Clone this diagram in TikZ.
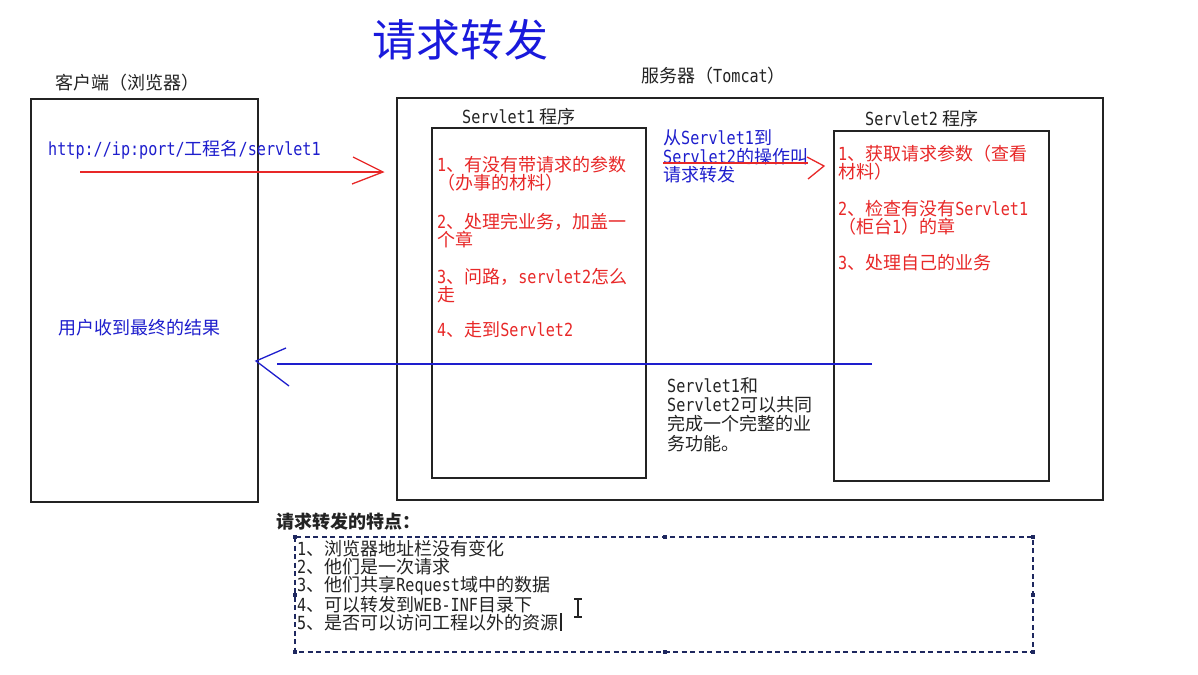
\documentclass[tikz,border=0pt]{standalone}
\usepackage{fontspec}
\setmainfont{Noto Sans CJK SC}
\newfontfamily\monof[FakeStretch=0.84]{DejaVu Sans Mono}
\newcommand\mtx[1]{{\monof #1}}
\usetikzlibrary{calc}
\definecolor{myred}{RGB}{232,40,40}
\definecolor{myblue}{RGB}{30,30,205}
\definecolor{titleblue}{RGB}{25,25,220}
\definecolor{ink}{RGB}{35,35,35}
\definecolor{navy}{RGB}{30,40,95}
\begin{document}
\begin{tikzpicture}[x=1pt,y=-1pt,
  box/.style={draw=ink,line width=1.4pt},
  txt/.style={anchor=west,inner sep=0pt,font=\fontsize{18}{18}\selectfont,align=left},
  redtxt/.style={txt,text=myred},
  bluetxt/.style={txt,text=myblue},
  blacktxt/.style={txt,text=ink},
  redline/.style={draw=myred,line width=1.3pt},
  blueline/.style={draw=myblue,line width=1.3pt},
  handle/.style={fill=navy,draw=none,minimum size=3.5pt,inner sep=0pt}
]
\useasboundingbox (0,0) rectangle (1198,674);
\fill[white] (0,0) rectangle (1198,674);

% title
\node[inner sep=0pt,text=titleblue,font=\fontsize{44}{44}\selectfont] (title) at (460,40) {请求转发};

% labels
\node[blacktxt,font=\fontsize{18}{18}\selectfont] (clientlbl) at (55,83) {客户端（浏览器）};
\node[blacktxt,font=\fontsize{18}{18}\selectfont] (serverlbl) at (641,76) {服务器（\mtx{Tomcat}）};
\node[blacktxt] (s1lbl) at (462,117) {\mtx{Servlet1} 程序};
\node[blacktxt] (s2lbl) at (865,119) {\mtx{Servlet2} 程序};

% boxes
\draw[box] (31,99) rectangle (258,502);
\draw[box] (397,98) rectangle (1103,500);
\draw[box] (432,128) rectangle (646,478);
\draw[box] (834,131) rectangle (1049,481);

% client texts
\node[bluetxt] (url) at (48,150) {\mtx{http://ip:port/}工程名\mtx{/servlet1}};
\node[bluetxt] (result) at (58,328) {用户收到最终的结果};

% servlet1 items
\node[redtxt] (a1) at (437,174) {\mtx{1}、有没有带请求的参数\\（办事的材料）};
\node[redtxt] (a2) at (437,230.5) {\mtx{2}、处理完业务，加盖一\\个章};
\node[redtxt] (a3) at (437,286) {\mtx{3}、问路，\mtx{servlet2}怎么\\走};
\node[redtxt] (a4) at (437,330) {\mtx{4}、走到\mtx{Servlet2}};

% servlet2 items
\node[redtxt] (b1) at (838,162.5) {\mtx{1}、获取请求参数（查看\\材料）};
\node[redtxt] (b2) at (838,217.5) {\mtx{2}、检查有没有\mtx{Servlet1}\\（柜台\mtx{1}）的章};
\node[redtxt] (b3) at (838,263) {\mtx{3}、处理自己的业务};

% middle texts
\node[bluetxt,font=\fontsize{18}{18.5}\selectfont] (mid) at (663,156.5) {从\mtx{Servlet1}到\\\mtx{Servlet2}的操作叫\\请求转发};
\node[blacktxt,font=\fontsize{18}{19.3}\selectfont] (coop) at (667,414.5) {\mtx{Servlet1}和\\\mtx{Servlet2}可以共同\\完成一个完整的业\\务功能。};

% arrows
\coordinate (rqS) at (80,172);
\coordinate (rqT) at (383,172);
\draw[redline] (rqS) -- (rqT);
\draw[redline] ($(rqT)+(-30,-15)$) -- (rqT) -- ($(rqT)+(-31,12)$);

\coordinate (fwS) at (663,163);
\coordinate (fwE) at (808,163);
\coordinate (fwT) at (824,166);
\draw[redline] (fwS) -- (fwE);
\draw[redline] ($(fwT)+(-17,-9)$) -- (fwT) -- ($(fwT)+(-16,13)$);

\coordinate (rsS) at (872,364);
\coordinate (rsE) at (277,364);
\coordinate (rsT) at (256,361);
\draw[blueline] (rsS) -- (rsE);
\draw[blueline] ($(rsT)+(30,-13)$) -- (rsT) -- ($(rsT)+(33,25)$);

% features
\node[blacktxt,font=\fontsize{18}{18}\selectfont\bfseries] (feat) at (276,522) {请求转发的特点：};
\draw[navy,line width=1.2pt,dash pattern=on 5pt off 3.5pt] (295,537) rectangle (1033,652);
\foreach \p/\q in {295/537,665/537,1033/537,295/595,1033/595,295/652,665/652,1033/652}
  \node[handle] at (\p,\q) {};
\node[blacktxt,font=\fontsize{18}{18.25}\selectfont] (list) at (297,585.5) {\mtx{1}、浏览器地址栏没有变化\\\mtx{2}、他们是一次请求\\\mtx{3}、他们共享\mtx{Request}域中的数据\\\mtx{4}、可以转发到\mtx{WEB-INF}目录下\\\mtx{5}、是否可以访问工程以外的资源};
% text cursor and I-beam pointer
\draw[ink,line width=1.2pt] (561,613) -- (561,631);
\draw[ink,line width=1.2pt] (578,599) -- (578,617) (574,599) -- (582,599) (574,617) -- (582,617);
\end{tikzpicture}
\end{document}
